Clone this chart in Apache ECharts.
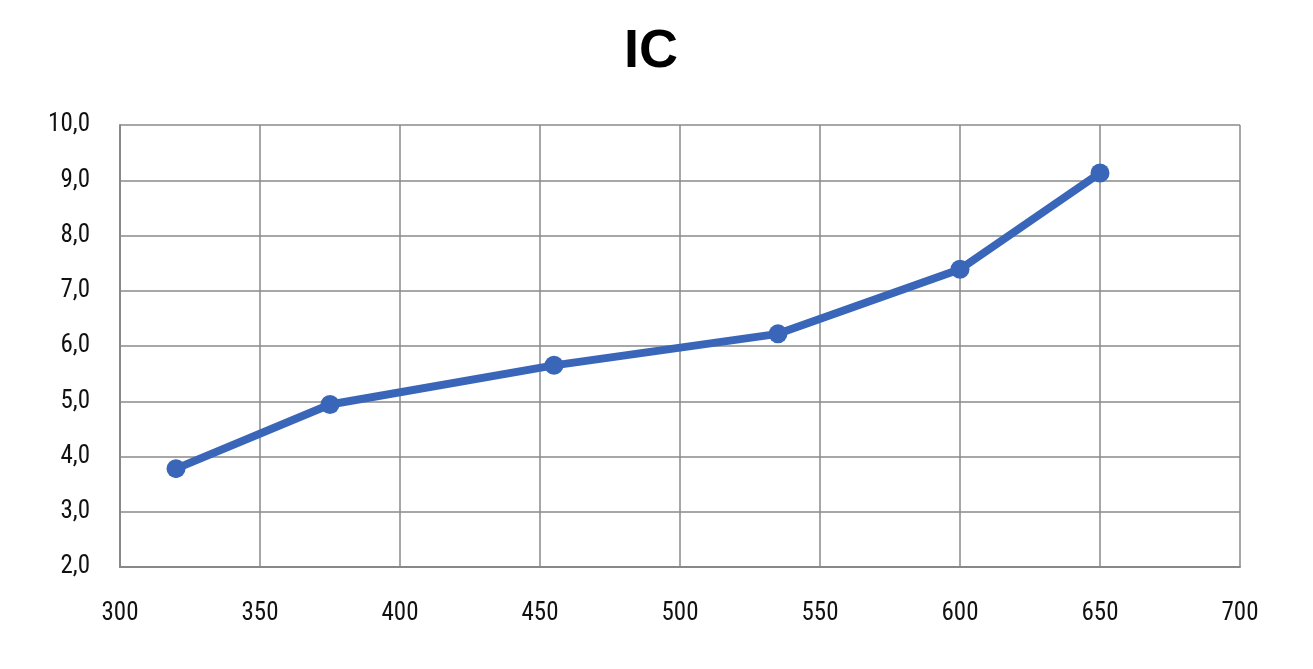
<!DOCTYPE html>
<html>
<head>
<meta charset="utf-8">
<script src="https://cdn.jsdelivr.net/npm/echarts@6/dist/echarts.min.js"></script>
<style>
  html, body { margin: 0; padding: 0; background: #fff; }
  #chart { width: 1313px; height: 669px; }
</style>
</head>
<body>
<div id="chart"></div>
<script>
const xValues = [320, 375, 455, 535, 600, 650];
const icValues = [3.78, 4.94, 5.65, 6.22, 7.39, 9.13];

const chart = echarts.init(document.getElementById("chart"));
const font = "'Liberation Sans Narrow', 'Roboto Condensed', 'Liberation Sans', sans-serif";

chart.setOption({
  animation: false,
  title: {
    text: "IC",
    left: 619,
    top: 20,
    textStyle: { fontSize: 54, fontWeight: "bold", color: "#000", fontFamily: "'Liberation Sans', Arial, sans-serif" },
  },
  grid: { left: 120, right: 73, top: 125, bottom: 102 },
  xAxis: {
    type: "value",
    min: 300,
    max: 700,
    interval: 50,
    axisLine: { show: true, lineStyle: { color: "#888", width: 2 } },
    axisTick: { show: false },
    axisLabel: { color: "#111", fontSize: 25, margin: 34, fontFamily: font },
    splitLine: { show: true, lineStyle: { color: "#8a8a8a", width: 1.5 } },
  },
  yAxis: {
    type: "value",
    min: 2,
    max: 10,
    interval: 1,
    axisLine: { show: true, lineStyle: { color: "#888", width: 2 } },
    axisTick: { show: false },
    axisLabel: {
      color: "#111",
      fontSize: 25,
      margin: 30,
      fontFamily: font,
      formatter: (v) => v.toFixed(1).replace(".", ","),
    },
    splitLine: { show: true, lineStyle: { color: "#8a8a8a", width: 1.5 } },
  },
  series: [
    {
      type: "line",
      data: xValues.map((x, i) => [x, icValues[i]]),
      symbol: "circle",
      symbolSize: 19,
      lineStyle: { color: "#3a66b9", width: 8 },
      itemStyle: { color: "#3a66b9" },
    },
  ],
});
</script>
</body>
</html>
